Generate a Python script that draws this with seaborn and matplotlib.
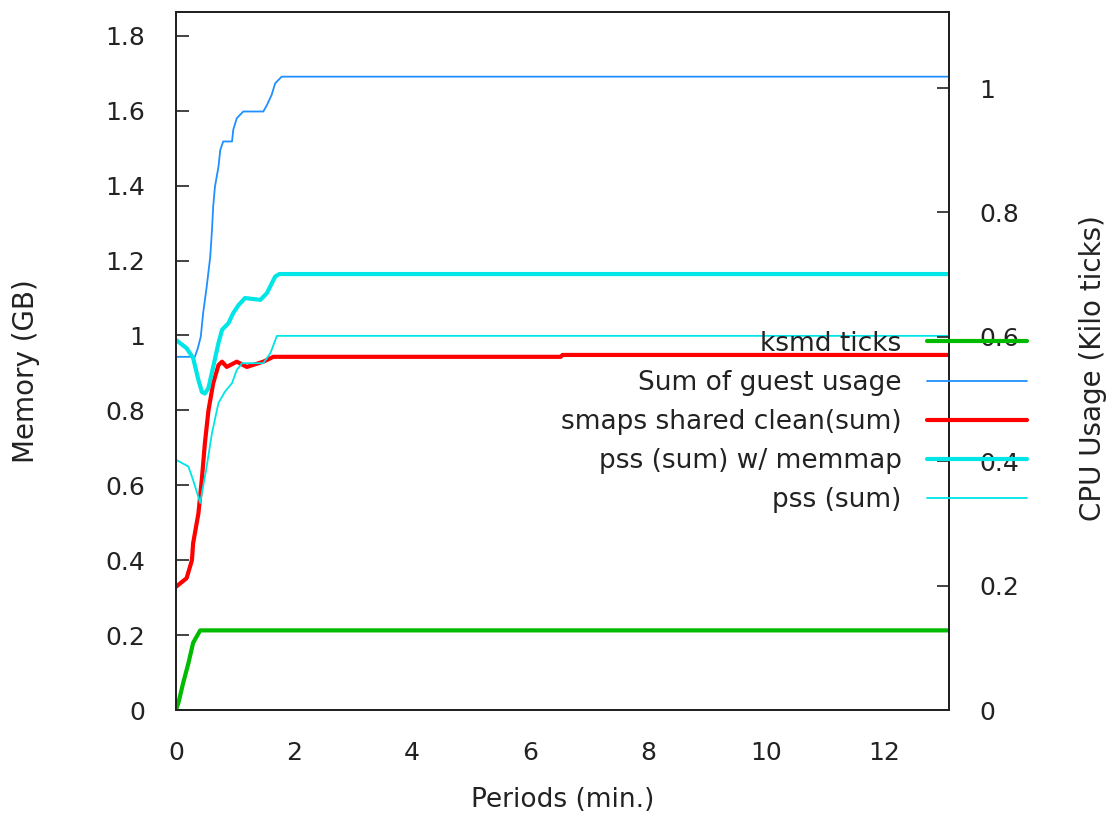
import matplotlib
matplotlib.use("Agg")
import matplotlib.pyplot as plt
import pandas as pd
import seaborn as sns

# values (x in minutes)
guest_x = [0, 0.32, 0.37, 0.42, 0.46, 0.52, 0.58, 0.61, 0.63, 0.66, 0.72, 0.75, 0.80, 0.95, 0.97,
           1.03, 1.14, 1.48, 1.54, 1.62, 1.68, 1.79, 13.1]
guest_y = [0.943, 0.943, 0.966, 0.997, 1.06, 1.13, 1.21, 1.282, 1.344, 1.397, 1.451, 1.495, 1.518,
           1.518, 1.549, 1.580, 1.598, 1.598, 1.615, 1.642, 1.673, 1.691, 1.691]

smaps_x = [0, 0.18, 0.27, 0.29, 0.38, 0.44, 0.49, 0.55, 0.63, 0.72, 0.78, 0.86, 1.03, 1.20, 1.48,
           1.65, 6.52, 6.55, 13.1]
smaps_y = [0.329, 0.352, 0.40, 0.445, 0.525, 0.62, 0.713, 0.80, 0.872, 0.921, 0.93, 0.916, 0.93,
           0.916, 0.93, 0.943, 0.943, 0.948, 0.948]

pss_mm_x = [0, 0.18, 0.29, 0.38, 0.44, 0.49, 0.55, 0.63, 0.72, 0.78, 0.89, 0.97, 1.06, 1.17, 1.43,
            1.54, 1.68, 1.75, 13.1]
pss_mm_y = [0.988, 0.966, 0.94, 0.881, 0.849, 0.845, 0.86, 0.916, 0.98, 1.015, 1.033, 1.06, 1.081,
            1.10, 1.095, 1.113, 1.157, 1.164, 1.164]

pss_x = [0, 0.21, 0.29, 0.41, 0.52, 0.61, 0.72, 0.83, 0.95, 1.03, 1.12, 1.48, 1.60, 1.71, 13.1]
pss_y = [0.668, 0.65, 0.614, 0.553, 0.65, 0.74, 0.82, 0.85, 0.873, 0.908, 0.926, 0.926, 0.953,
         0.999, 0.999]

ksmd_x = [0, 0.04, 0.12, 0.21, 0.29, 0.41, 13.1]
ksmd_y = [0, 0.011, 0.043, 0.075, 0.108, 0.128, 0.128]

mem_ticks = [0, 0.2, 0.4, 0.6, 0.8, 1, 1.2, 1.4, 1.6, 1.8]
cpu_ticks = [0, 0.2, 0.4, 0.6, 0.8, 1]
x_ticks = [0, 2, 4, 6, 8, 10, 12]

sns.set_style("white")
plt.rcParams['font.family'] = ['DejaVu Sans']

fig = plt.figure(figsize=(11.14, 8.16), dpi=100)
ax = fig.add_axes([176 / 1114, 1 - 710 / 816, (949 - 176) / 1114, (710 - 11.5) / 816])
ax2 = ax.twinx()

blue = '#1e90ff'
cyan = '#00e5e5'
red = '#ff0000'
green = '#00bb00'

sns.lineplot(x=guest_x, y=guest_y, ax=ax, color=blue, linewidth=1.3, legend=False)
sns.lineplot(x=smaps_x, y=smaps_y, ax=ax, color=red, linewidth=3.0, legend=False)
sns.lineplot(x=pss_mm_x, y=pss_mm_y, ax=ax, color=cyan, linewidth=3.0, legend=False)
sns.lineplot(x=pss_x, y=pss_y, ax=ax, color=cyan, linewidth=1.3, legend=False)
sns.lineplot(x=ksmd_x, y=ksmd_y, ax=ax2, color=green, linewidth=3.0, legend=False)

ax.set_xlim(0, 13.1)
ax.set_ylim(0, 1.865)
ax2.set_ylim(0, 1.123)


def fmt(t):
    return f'{t:g}'


ax.set_xticks(x_ticks)
ax.set_xticklabels([fmt(t) for t in x_ticks])
ax.set_yticks(mem_ticks)
ax.set_yticklabels([fmt(t) for t in mem_ticks])
ax2.set_yticks(cpu_ticks)
ax2.set_yticklabels([fmt(t) for t in cpu_ticks])

ax.tick_params(axis='both', direction='in', length=9, width=1.2, labelsize=18, colors='#222222')
ax.tick_params(axis='x', pad=22)
ax.tick_params(axis='y', pad=22)
ax2.tick_params(axis='y', direction='in', length=9, width=1.2, labelsize=18, colors='#222222',
                pad=22)

for a in (ax, ax2):
    for s in a.spines.values():
        s.set_color('#222222')
        s.set_linewidth(1.4)
        s.set_visible(True)

ax.set_xlabel('Periods (min.)', fontsize=19, color='#222222')
ax.set_ylabel('Memory (GB)', fontsize=20, color='#222222')
ax2.set_ylabel('CPU Usage (Kilo ticks)', fontsize=20, color='#222222')

ax.xaxis.set_label_coords(0.5, (710 - 800) / 698.5)
ax.yaxis.set_label_coords((26 - 176) / 773, 0.485)
ax2.yaxis.set_label_coords((1093 - 176) / 773, 0.49)
for lab in (ax.xaxis.label, ax.yaxis.label, ax2.yaxis.label):
    lab.set_va('center')
    lab.set_ha('center')

handles = ax2.get_lines()[:1] + ax.get_lines()[:4]
labels = ['ksmd ticks', 'Sum of guest usage', 'smaps shared clean(sum)', 'pss (sum) w/ memmap',
          'pss (sum)']
leg = fig.legend(handles, labels, loc='center right', bbox_to_anchor=(1027 / 1114, 1 - 422 / 816),
                 frameon=False, markerfirst=False, fontsize=19, handlelength=3.8,
                 handletextpad=0.95, labelspacing=0.5, borderpad=0, borderaxespad=0)
for t in leg.get_texts():
    t.set_ha('right')
    t.set_color('#222222')
leg._legend_box.align = 'right'

fig.savefig('out.png', dpi=100)
